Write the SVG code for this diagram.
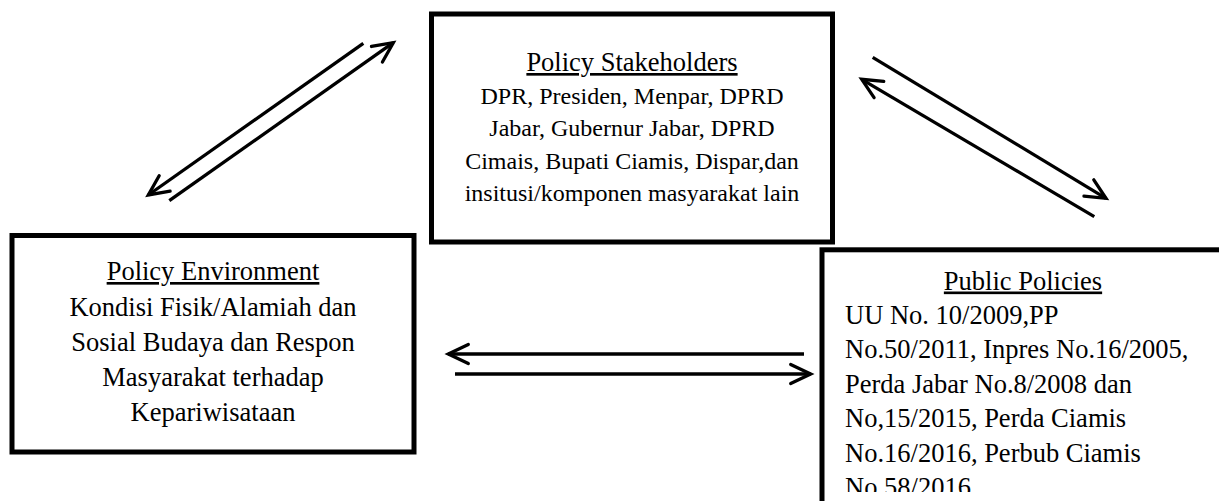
<svg xmlns="http://www.w3.org/2000/svg" width="1219" height="501" viewBox="0 0 1219 501">
<style>
.box{fill:#fff;stroke:#000;stroke-width:5}
.t{font-family:"Liberation Serif","Times New Roman",serif;fill:#000}
.big{font-size:26.5px}
.small{font-size:24px}
.c{text-anchor:middle}
.u{text-decoration:underline}
.ln{stroke:#000;stroke-width:3.3;fill:none;stroke-linecap:butt}
</style>
<defs>
<marker id="ah" markerUnits="userSpaceOnUse" viewBox="-26 -16 30 32" refX="0" refY="0" markerWidth="30" markerHeight="32" orient="auto" overflow="visible">
<path d="M-20,-9.5 L0,0 L-20,9.5" fill="none" stroke="#000" stroke-width="3.3" stroke-linecap="round" stroke-linejoin="miter"/>
</marker>
<clipPath id="clipR"><rect x="822" y="249" width="400" height="243"/></clipPath>
</defs>
<rect width="1219" height="501" fill="#fff"/>
<g id="connectors">
<line class="ln" x1="363.3" y1="43.3" x2="148.3" y2="195" marker-end="url(#ah)"/>
<line class="ln" x1="169.3" y1="200.7" x2="393.3" y2="42.7" marker-end="url(#ah)"/>
<line class="ln" x1="872.7" y1="57.3" x2="1106" y2="198.3" marker-end="url(#ah)"/>
<line class="ln" x1="1094.3" y1="216.7" x2="861.7" y2="79.3" marker-end="url(#ah)"/>
<line class="ln" x1="804" y1="354" x2="448.3" y2="354" marker-end="url(#ah)"/>
<line class="ln" x1="455" y1="374" x2="810.7" y2="374" marker-end="url(#ah)"/>
</g>
<g id="stakeholders">
<rect class="box" x="431.5" y="14" width="401" height="228"/>
<text class="t big c u" x="632" y="71">Policy Stakeholders</text>
<text class="t small c" x="632" y="103.5">DPR, Presiden, Menpar, DPRD</text>
<text class="t small c" x="632" y="136">Jabar, Gubernur Jabar, DPRD</text>
<text class="t small c" x="632" y="168.5">Cimais, Bupati Ciamis, Dispar,dan</text>
<text class="t small c" x="632" y="201">insitusi/komponen masyarakat lain</text>
</g>
<g id="environment">
<rect class="box" x="12" y="235.5" width="402" height="216.5"/>
<text class="t big c u" x="213" y="280">Policy Environment</text>
<text class="t big c" x="213" y="315.5">Kondisi Fisik/Alamiah dan</text>
<text class="t big c" x="213" y="350.5">Sosial Budaya dan Respon</text>
<text class="t big c" x="213" y="385.5">Masyarakat terhadap</text>
<text class="t big c" x="213" y="420.5">Kepariwisataan</text>
</g>
<g id="policies">
<rect class="box" x="822" y="249.8" width="405" height="270"/>
<g clip-path="url(#clipR)">
<text class="t big c u" x="1023" y="289.5">Public Policies</text>
<text class="t big" x="845" y="323.5">UU No. 10/2009,PP</text>
<text class="t big" x="845" y="358">No.50/2011, Inpres No.16/2005,</text>
<text class="t big" x="845" y="392.5">Perda Jabar No.8/2008 dan</text>
<text class="t big" x="845" y="427">No,15/2015, Perda Ciamis</text>
<text class="t big" x="845" y="461.5">No.16/2016, Perbub Ciamis</text>
<text class="t big" x="845" y="496">No.58/2016</text>
</g>
</g>
</svg>
